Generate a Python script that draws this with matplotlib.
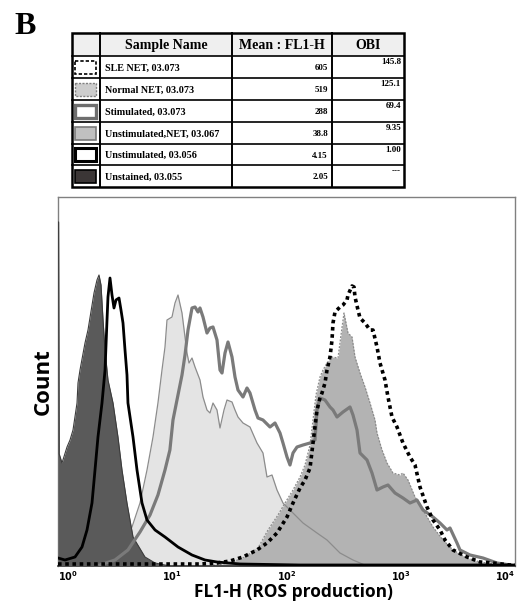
import matplotlib.pyplot as plt
from matplotlib.patches import Rectangle

# FL1-H channel values and event counts for each histogram
unstained_x = [1.0, 1.012, 1.025, 1.084, 1.199, 1.274, 1.353, 1.467, 1.496, 1.558, 1.723,
               1.830, 2.066, 2.194, 2.285, 2.379, 2.478, 2.580, 2.738, 3.031, 3.349,
               3.632, 4.016, 4.534, 5.773, 7.069, 9.536]
unstained_y = [344, 344, 112, 103, 119, 126, 136, 163, 183, 196, 223,
               236, 273, 286, 291, 281, 246, 216, 186, 163, 129,
               96, 63, 29, 9, 3, 0]

unstim_x = [1.0, 1.151, 1.409, 1.622, 1.794, 1.984, 2.108, 2.238, 2.427, 2.580,
            2.685, 2.738, 2.852, 2.969, 3.091, 3.218, 3.419, 3.559, 3.706, 3.859,
            4.016, 4.096, 4.534, 4.914, 5.435, 6.011, 7.069, 8.640, 11.23, 14.89,
            19.35, 24.64, 39.17, 131.3, 10000]
unstim_y = [8, 6, 9, 19, 36, 63, 96, 129, 163, 196,
            246, 269, 288, 271, 258, 266, 268, 256, 243, 216,
            191, 163, 129, 96, 63, 46, 36, 29, 19, 11,
            6, 4, 2, 1, 1]

unstim_net_x = [2.331, 2.852, 3.632, 4.443, 5.220, 6.011, 6.784, 7.496, 8.132, 8.640,
                8.995, 9.949, 10.57, 11.23, 12.17, 12.93, 13.46, 14.02, 14.89, 15.82,
                17.49, 18.58, 20.14, 21.40, 22.73, 24.64, 26.18, 28.37, 30.14, 33.34,
                35.42, 37.62, 41.61, 47.91, 55.18, 62.26, 67.49, 74.65, 82.56, 93.17,
                107.3, 123.6, 139.5, 184.9, 226.2, 293.9, 381.9, 506.5]
unstim_net_y = [1, 8, 19, 39, 63, 96, 129, 163, 196, 219,
                246, 249, 263, 271, 253, 229, 213, 203, 208, 199,
                186, 169, 156, 153, 163, 156, 138, 156, 166, 164,
                156, 149, 143, 139, 123, 113, 89, 91, 76, 63,
                56, 49, 43, 33, 26, 13, 6, 0]

stim_x = [2.331, 3.154, 4.096, 5.220, 6.386, 7.496, 8.640, 9.536, 10.15, 11.00,
          12.17, 12.93, 13.74, 14.89, 15.82, 16.80, 17.49, 18.58, 20.14, 21.40,
          22.73, 24.64, 26.18, 27.25, 28.95, 30.76, 33.34, 35.42, 37.62, 41.61,
          45.10, 47.91, 53.00, 56.30, 62.26, 71.71, 79.30, 87.72, 93.17, 101.0,
          107.3, 114.0, 123.6, 139.5, 160.6, 177.6, 184.9, 196.4, 217.2, 240.3,
          255.3, 276.7, 312.2, 359.6, 381.9, 414.1, 439.9, 506.5, 560.1, 619.5,
          699.1, 773.2, 890.4, 1046, 1205, 1387, 1566, 1916, 2206, 2540,
          2698, 3107, 3301, 4037, 5247, 6957, 9040]
stim_y = [1, 6, 16, 34, 51, 71, 96, 116, 146, 166,
          191, 211, 236, 258, 259, 254, 258, 249, 233, 238,
          239, 226, 196, 193, 213, 224, 209, 189, 176, 169,
          178, 173, 156, 148, 146, 139, 143, 133, 123, 109,
          101, 113, 119, 121, 123, 126, 156, 168, 166, 159,
          156, 149, 154, 159, 151, 136, 113, 106, 93, 76,
          79, 81, 73, 68, 63, 66, 56, 49, 43, 36,
          38, 23, 16, 11, 8, 3, 1]

normal_net_x = [21.40, 32.02, 43.32, 56.30, 68.87, 84.24, 97.02, 114.0, 131.3, 145.2,
                160.6, 170.6, 181.2, 196.4, 208.7, 226.2, 250.2, 282.3, 299.9, 318.6,
                345.3, 374.4, 397.7, 439.9, 486.5, 537.9, 594.9, 619.5, 685.2, 757.8,
                855.2, 984.9, 1046, 1157, 1333, 1566, 1916, 2343, 2866, 3801,
                4939, 7390, 10000]
normal_net_y = [0, 3, 9, 18, 36, 51, 63, 76, 89, 101,
                121, 146, 171, 189, 196, 203, 209, 208, 231, 253,
                233, 229, 209, 193, 179, 163, 146, 133, 116, 103,
                93, 91, 93, 86, 69, 56, 39, 26, 16, 8,
                4, 1, 0]

sle_net_x = [1.0, 17.49, 24.64, 32.02, 41.61, 55.18, 67.49, 82.56, 101.0, 114.0,
             131.3, 145.2, 160.6, 170.6, 184.9, 196.4, 204.5, 217.2, 226.2, 240.3,
             250.2, 255.3, 265.8, 293.9, 312.2, 338.5, 345.3, 374.4, 389.8, 397.7,
             422.5, 439.9, 486.5, 537.9, 571.6, 619.5, 658.2, 727.8, 773.2, 838.2,
             927.1, 1046, 1205, 1333, 1474, 1697, 1916, 2206, 2440, 2866,
             3801, 4939, 6418, 9040, 10000]
sle_net_y = [2, 2, 3, 5, 9, 16, 23, 33, 49, 63,
             78, 86, 98, 123, 156, 168, 173, 183, 196, 209,
             226, 243, 254, 259, 261, 266, 271, 280, 279, 269,
             256, 248, 243, 236, 236, 219, 203, 186, 169, 149,
             139, 123, 109, 101, 79, 59, 46, 36, 26, 16,
             9, 4, 3, 1, 1]

# summary table
sample_names = ["SLE NET, 03.073", "Normal NET, 03.073", "Stimulated, 03.073",
                "Unstimulated,NET, 03.067", "Unstimulated, 03.056", "Unstained, 03.055"]
mean_fl1 = ["605", "519", "288", "38.8", "4.15", "2.05"]
obi = ["145.8", "125.1", "69.4", "9.35", "1.00", "---"]
headers = ["Sample Name", "Mean : FL1-H", "OBI"]

W, H = 517, 604
fig = plt.figure(figsize=(W / 100, H / 100), dpi=100)

# histogram panel
ax = fig.add_axes([58 / W, (H - 566) / H, (515 - 58) / W, (566 - 197) / H])
ax.set_xscale("log")
ax.set_xlim(1, 1e4)
ax.set_ylim(0, 369)

ax.fill_between(unstim_net_x, unstim_net_y, color="#e4e4e4", lw=0, zorder=1)
ax.fill_between(normal_net_x, normal_net_y, color="#b3b3b3", lw=0, zorder=2)
ax.plot(normal_net_x, normal_net_y, color="#8a8a8a", lw=0.9, ls=(0, (1.5, 1.2)), zorder=2.5)
ax.plot(unstim_net_x, unstim_net_y, color="#8c8c8c", lw=0.9, zorder=3)
ax.fill_between(unstained_x, unstained_y, color="#5a5a5a", lw=0, zorder=4)
ax.plot(unstained_x, unstained_y, color="#3c3c3c", lw=0.8, zorder=4)
ax.plot(stim_x, stim_y, color="#7a7a7a", lw=2.3, zorder=5)
ax.plot(unstim_x, unstim_y, color="black", lw=2.0, zorder=6)
ax.plot(sle_net_x, sle_net_y, color="black", lw=2.6, ls=(0, (1, 1)), zorder=7)

for side in ["top", "right", "left"]:
    ax.spines[side].set_color("#808080")
    ax.spines[side].set_linewidth(1.0)
ax.spines["bottom"].set_color("#303030")
ax.spines["bottom"].set_linewidth(1.2)
ax.set_yticks([])
ax.set_xticks([1, 10, 100, 1000, 10000])
ax.set_xticklabels([r"$\mathbf{10^{0}}$", r"$\mathbf{10^{1}}$", r"$\mathbf{10^{2}}$",
                    r"$\mathbf{10^{3}}$", r"$\mathbf{10^{4}}$"])
ax.xaxis.set_minor_locator(plt.NullLocator())
ax.tick_params(axis="x", length=0, pad=2, labelsize=7)
ticklabels = ax.get_xticklabels()
ticklabels[0].set_horizontalalignment("left")
ticklabels[-1].set_horizontalalignment("right")
ax.set_xlabel("FL1-H (ROS production)", fontfamily="Open Sans", fontweight="bold",
              fontsize=12.5)
ax.xaxis.set_label_coords(0.516, -0.084, transform=ax.transAxes)
ax.xaxis.label.set_va("baseline")
ax.set_ylabel("Count", fontfamily="Open Sans", fontweight="bold", fontsize=16,
              labelpad=3)

# overlay in pixel coordinates for the panel letter and the table
ov = fig.add_axes([0, 0, 1, 1], zorder=10)
ov.set_xlim(0, W)
ov.set_ylim(H, 0)
ov.axis("off")

ov.text(14, 34, "B", fontfamily="Liberation Serif", fontweight="bold", fontsize=23,
        va="baseline", ha="left")

cols = [72, 100, 232, 332, 404]
rows = [33, 56, 78, 100, 122, 144, 165, 187]
serif = dict(fontfamily="Liberation Serif", fontweight="bold")

ov.add_patch(Rectangle((cols[0], rows[0]), cols[-1] - cols[0], rows[1] - rows[0],
                       facecolor="#efefef", edgecolor="none"))
for y in rows[1:-1]:
    ov.plot([cols[0], cols[-1]], [y, y], color="black", lw=1.2)
for x in cols[1:-1]:
    ov.plot([x, x], [rows[0], rows[-1]], color="black", lw=1.4)
ov.add_patch(Rectangle((cols[0], rows[0]), cols[-1] - cols[0], rows[-1] - rows[0],
                       facecolor="none", edgecolor="black", lw=1.8))

for i, head in enumerate(headers):
    ov.text((cols[i + 1] + cols[i + 2]) / 2, (rows[0] + rows[1]) / 2 + 1, head,
            ha="center", va="center", fontsize=10, **serif)

swatches = [
    dict(facecolor="white", edgecolor="black", lw=1.2, ls=(0, (2, 1.2))),
    dict(facecolor="#cdcdcd", edgecolor="#808080", lw=1.0, ls=(0, (1.5, 1))),
    dict(facecolor="white", edgecolor="#6e6e6e", lw=2.4),
    dict(facecolor="#c0c0c0", edgecolor="#7a7a7a", lw=1.2),
    dict(facecolor="white", edgecolor="black", lw=2.2),
    dict(facecolor="#3b3636", edgecolor="black", lw=1.2),
]

for i in range(len(sample_names)):
    top, bot = rows[i + 1], rows[i + 2]
    mid = (top + bot) / 2
    ov.add_patch(Rectangle((75, mid - 6.5), 21, 13, **swatches[i]))
    ov.text(cols[1] + 5, mid + 1, sample_names[i], ha="left", va="center",
            fontsize=7.3, **serif)
    ov.text(cols[3] - 4, mid + 1, mean_fl1[i], ha="right", va="center",
            fontsize=6.5, **serif)
    ov.text(cols[4] - 3, top + 2.5, obi[i], ha="right", va="top",
            fontsize=6.5, **serif)

fig.savefig("out.png", dpi=100)
